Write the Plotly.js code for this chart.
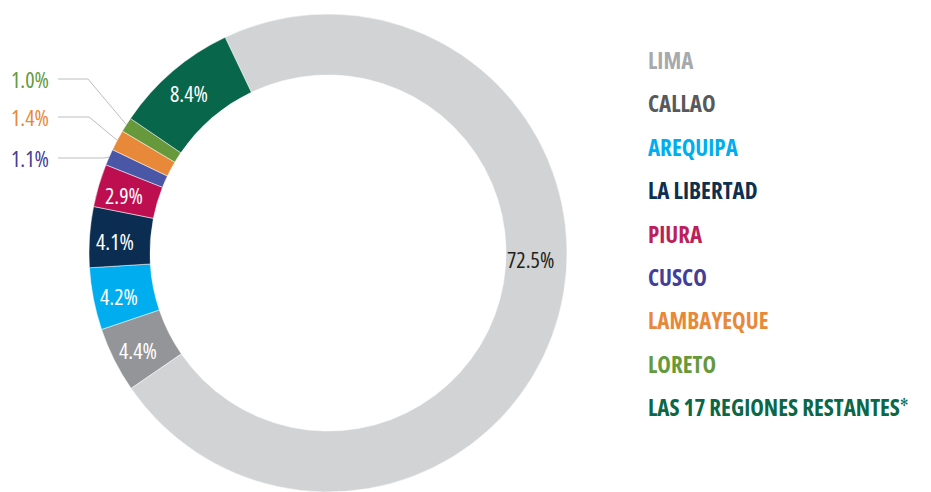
<!DOCTYPE html>
<html>
<head>
<meta charset="utf-8">
<script src="https://cdn.plot.ly/plotly-3.0.1.min.js"></script>
<style>
html,body{margin:0;padding:0;background:#fff;}
#chart{width:931px;height:492px;}
text, tspan{font-stretch:80%;}
</style>
</head>
<body>
<div id="chart"></div>
<script>
// ---- data ----
var regions = ["LIMA", "CALLAO", "AREQUIPA", "LA LIBERTAD", "PIURA", "CUSCO", "LAMBAYEQUE", "LORETO", "LAS 17 REGIONES RESTANTES"];
var shares = [72.5, 4.4, 4.2, 4.1, 2.9, 1.1, 1.4, 1.0, 8.4];
var pctLabels = ["72.5%", "4.4%", "4.2%", "4.1%", "2.9%", "1.1%", "1.4%", "1.0%", "8.4%"];
var sliceColors = ["#d1d3d4", "#939598", "#00aeef", "#0b2d51", "#bd0f50", "#4a56a6", "#e8893a", "#67993c", "#08664a"];
var legendColors = ["#a7a9ac", "#58595b", "#00aeef", "#0d2f50", "#be1e5a", "#443e97", "#e8893a", "#649a3c", "#0b6748"];

// ---- geometry / style ----
var W = 931, H = 492;
var CX = 328, CY = 253, R = 239, HOLE = 0.745;
var ROT = -25.5;
var outsideIdx = [5, 6, 7];          // small slices labelled outside
var outsideLabelY = [158, 117, 79];  // px
var outsideElbowX = [104, 89, 88];   // px
var labelFont = "Open Sans, DejaVu Sans, sans-serif";

function px(x) { return x / W; }
function py(y) { return 1 - y / H; }

var total = shares.reduce(function (a, b) { return a + b; }, 0);
var mids = [];
var acc = ROT;
shares.forEach(function (v) {
  var span = v / total * 360;
  mids.push(acc + span / 2);
  acc += span;
});
function pt(angleDeg, r) {
  var a = angleDeg * Math.PI / 180;
  return [CX + r * Math.sin(a), CY - r * Math.cos(a)];
}

var annotations = [];
var shapes = [];
var rText = 213;
shares.forEach(function (v, i) {
  if (outsideIdx.indexOf(i) >= 0) return;
  var ang = mids[i], r = rText;
  if (i === 0) { ang = 91; r = 203; }
  var p = pt(ang, r);
  annotations.push({
    x: px(p[0]), y: py(p[1] + 2), xref: "paper", yref: "paper",
    text: pctLabels[i], showarrow: false, xanchor: "center", yanchor: "middle",
    font: { family: labelFont, size: 22, color: i === 0 ? "#231f20" : "#ffffff" }
  });
});
outsideIdx.forEach(function (i, k) {
  var p = pt(mids[i], R);
  var ly = outsideLabelY[k];
  shapes.push({
    type: "path", xref: "paper", yref: "paper",
    path: "M " + px(58) + "," + py(ly) + " L " + px(outsideElbowX[k]) + "," + py(ly) + " L " + px(p[0]) + "," + py(p[1]),
    line: { color: "#bcbec0", width: 1 }
  });
  annotations.push({
    x: px(51), y: py(ly), xref: "paper", yref: "paper",
    text: pctLabels[i], showarrow: false, xanchor: "right", yanchor: "middle",
    font: { family: labelFont, size: 22, color: legendColors[i] }
  });
});
regions.forEach(function (name, i) {
  var txt = "<b>" + name + "</b>";
  if (i === regions.length - 1) txt = txt + "<sup><span style=\"font-size:11px\">✻</span></sup>";
  annotations.push({
    x: px(646), y: py(60 + i * 43.4), xref: "paper", yref: "paper",
    text: txt, showarrow: false, xanchor: "left", yanchor: "middle",
    font: { family: labelFont, size: 23, color: legendColors[i] }
  });
});

var trace = {
  type: "pie",
  labels: regions,
  values: shares,
  hole: HOLE,
  sort: false,
  direction: "clockwise",
  rotation: ROT,
  textinfo: "none",
  hoverinfo: "label+percent",
  marker: { colors: sliceColors, line: { color: "#ffffff", width: 0.5 } },
  domain: { x: [px(CX - R), px(CX + R)], y: [(H - CY - R) / H, (H - CY + R) / H] }
};

var layout = {
  width: W, height: H,
  margin: { l: 0, r: 0, t: 0, b: 0 },
  paper_bgcolor: "#ffffff",
  showlegend: false,
  annotations: annotations,
  shapes: shapes
};

Plotly.newPlot("chart", [trace], layout, { displayModeBar: false, staticPlot: true });
</script>
</body>
</html>
